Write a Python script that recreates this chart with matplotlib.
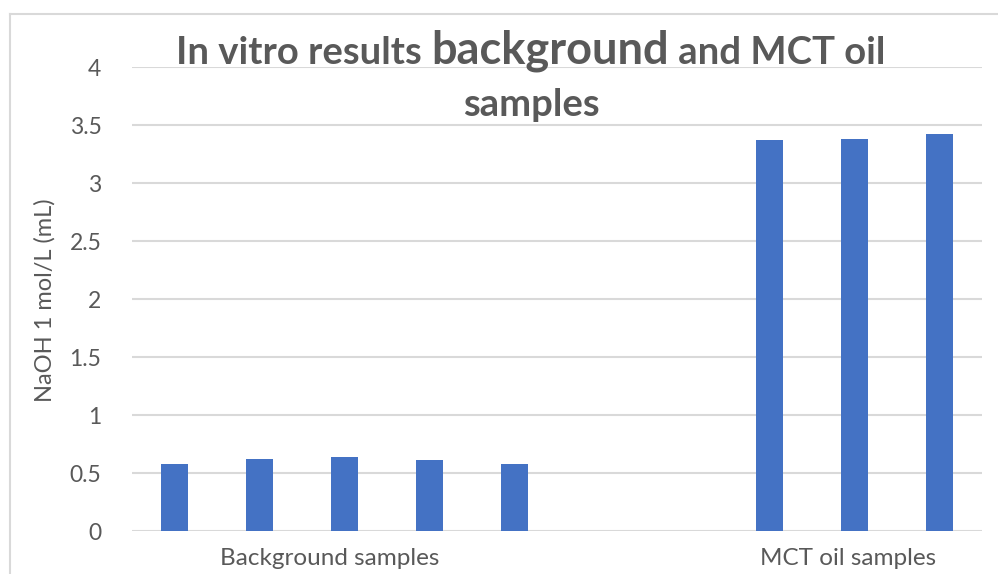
import matplotlib
matplotlib.use("Agg")
import matplotlib.pyplot as plt
from matplotlib.lines import Line2D

# ---- data ----
background_values = [0.58, 0.62, 0.64, 0.61, 0.58]
mct_values = [3.37, 3.38, 3.42]
group_labels = ["Background samples", "MCT oil samples"]
y_ticks = [0, 0.5, 1, 1.5, 2, 2.5, 3, 3.5, 4]
y_tick_labels = ["0", "0.5", "1", "1.5", "2", "2.5", "3", "3.5", "4"]
y_label = "NaOH 1 mol/L (mL)"
title_parts_line1 = [("In vitro results ", 27.5), ("background", 32.5), (" and MCT oil", 27.5)]
title_line2 = "samples"

FONT = "Lato"
GRAY_TXT = "#595959"
GRID = "#D9D9D9"
BAR = "#4472C4"

W, H = 998, 574
fig = plt.figure(figsize=(W / 100, H / 100), dpi=100)
ax = fig.add_axes([132 / W, 1 - 531 / H, 850 / W, 464 / H])

bg_pos = list(range(len(background_values)))
mct_pos = [7 + i for i in range(len(mct_values))]
ax.bar(bg_pos, background_values, width=0.32, color=BAR, zorder=3)
ax.bar(mct_pos, mct_values, width=0.32, color=BAR, zorder=3)

ax.set_xlim(-0.5, 9.5)
ax.set_ylim(0, 4)
ax.set_yticks(y_ticks)
ax.set_yticklabels(y_tick_labels, fontfamily=FONT, fontsize=16.5, color=GRAY_TXT)
ax.set_xticks([])
ax.tick_params(axis="y", length=0, pad=22)
for s in ax.spines.values():
    s.set_visible(False)
ax.yaxis.grid(True, color=GRID, linewidth=1.5, zorder=0)
ax.set_axisbelow(True)

# group labels under the axis
group_centers = [1.83, 7.92]
for lbl, cx in zip(group_labels, group_centers):
    ax.text(cx, -0.235, lbl, ha="center", va="center", fontfamily=FONT,
            fontsize=17.5, color=GRAY_TXT, transform=ax.transData)

fig.text(45 / W, 1 - 300 / H, y_label, rotation=90, ha="center", va="center",
         fontfamily=FONT, fontsize=17, color=GRAY_TXT)

# chart border (cropped)
fig.add_artist(Line2D([10 / W, 10 / W], [0, 1 - 14 / H], transform=fig.transFigure,
                      color=GRID, linewidth=1.5))
fig.add_artist(Line2D([10 / W, 1], [1 - 14 / H, 1 - 14 / H], transform=fig.transFigure,
                      color=GRID, linewidth=1.5))

# title with mixed sizes
renderer = fig.canvas.get_renderer()
texts = []
for txt, fs in title_parts_line1:
    t = fig.text(0, 1 - 64 / H, txt, ha="left", va="baseline", fontfamily=FONT,
                 fontweight="bold", fontsize=fs, color=GRAY_TXT)
    texts.append(t)
widths = [t.get_window_extent(renderer).width for t in texts]
total = sum(widths)
x = 531 - total / 2
for t, w in zip(texts, widths):
    t.set_x(x / W)
    x += w
fig.text(531 / W, 1 - 116 / H, title_line2, ha="center", va="baseline", fontfamily=FONT,
         fontweight="bold", fontsize=27.5, color=GRAY_TXT)

fig.savefig("out.png", dpi=100)
